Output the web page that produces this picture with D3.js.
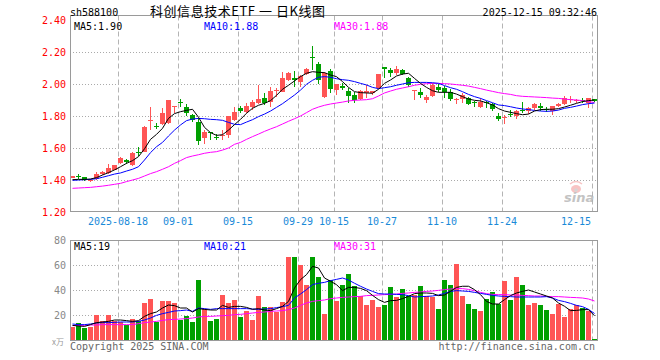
<!DOCTYPE html>
<html><head><meta charset="utf-8">
<script src="https://cdn.jsdelivr.net/npm/d3@7/dist/d3.min.js"></script>
<style>body{margin:0;background:#fff}svg{display:block}</style>
</head><body><svg id="c" width="660" height="360"></svg>
<script>
const dates = ["2025-08-06","2025-08-07","2025-08-08","2025-08-11","2025-08-12","2025-08-13","2025-08-14","2025-08-15","2025-08-18","2025-08-19","2025-08-20","2025-08-21","2025-08-22","2025-08-25","2025-08-26","2025-08-27","2025-08-28","2025-08-29",
"2025-09-01","2025-09-02","2025-09-03","2025-09-04","2025-09-05","2025-09-08","2025-09-09","2025-09-10","2025-09-11","2025-09-12","2025-09-15","2025-09-16","2025-09-17","2025-09-18","2025-09-19","2025-09-22","2025-09-23","2025-09-24","2025-09-25","2025-09-26","2025-09-29","2025-09-30",
"2025-10-09","2025-10-10","2025-10-13","2025-10-14","2025-10-15","2025-10-16","2025-10-17","2025-10-20","2025-10-21","2025-10-22","2025-10-23","2025-10-24","2025-10-27","2025-10-28","2025-10-29","2025-10-30","2025-10-31",
"2025-11-03","2025-11-04","2025-11-05","2025-11-06","2025-11-07","2025-11-10","2025-11-11","2025-11-12","2025-11-13","2025-11-14","2025-11-17","2025-11-18","2025-11-19","2025-11-20","2025-11-21","2025-11-24","2025-11-25","2025-11-26","2025-11-27","2025-11-28",
"2025-12-01","2025-12-02","2025-12-03","2025-12-04","2025-12-05","2025-12-08","2025-12-09","2025-12-10","2025-12-11","2025-12-12","2025-12-15"];

const open = [1.413,1.426,1.418,1.392,1.408,1.436,1.443,1.462,1.508,1.525, 1.494,1.575,1.577,1.773,1.738,1.750,1.754,1.860,1.885,1.854, 1.806,1.765,1.660,1.700,1.671,1.680,1.681,1.775,1.852,1.825, 1.854,1.880,1.915,1.890,1.960,1.952,2.025,2.040,2.015,2.060, 2.170,2.125,1.917,2.081,1.963,1.990,1.958,1.931,1.904,1.942, 1.942,1.973,2.104,2.087,2.067,2.087,2.040,1.956,1.952,1.900, 1.927,1.983,1.973,1.952,1.904,1.904,1.915,1.885,1.858,1.888, 1.875,1.802,1.790,1.815,1.802,1.838,1.833,1.848,1.865,1.842, 1.833,1.862,1.875,1.900,1.900,1.900,1.880,1.904];
const close = [1.425,1.424,1.400,1.402,1.437,1.452,1.473,1.494,1.535,1.512, 1.567,1.572,1.733,1.777,1.735,1.817,1.900,1.863,1.880,1.817, 1.775,1.646,1.698,1.698,1.669,1.684,1.800,1.827,1.831,1.862, 1.890,1.905,1.879,1.956,1.963,2.035,2.067,2.025,2.052,2.094, 2.160,2.025,2.070,1.969,1.998,1.977,1.927,1.900,1.956,1.958, 1.954,2.060,2.094,2.067,2.092,2.060,1.994,1.960,1.931,1.921, 1.994,1.963,1.948,1.906,1.906,1.931,1.875,1.881,1.890,1.885, 1.842,1.779,1.792,1.810,1.833,1.835,1.852,1.875,1.848,1.840, 1.862,1.875,1.915,1.904,1.902,1.896,1.910,1.892];
const high = [1.428,1.437,1.420,1.406,1.450,1.456,1.500,1.496,1.546,1.530, 1.572,1.604,1.735,1.854,1.758,1.852,1.902,1.863,1.904,1.875, 1.810,1.790,1.710,1.702,1.690,1.710,1.800,1.855,1.860,1.880, 1.900,1.994,1.942,1.983,1.973,2.077,2.077,2.081,2.056,2.098, 2.240,2.140,2.077,2.094,1.998,2.004,1.973,1.952,1.962,1.994, 1.958,2.060,2.104,2.102,2.112,2.092,2.046,1.960,1.973,1.931, 2.004,1.998,1.987,1.967,1.910,1.942,1.921,1.896,1.910,1.896, 1.883,1.817,1.806,1.838,1.838,1.890,1.858,1.883,1.879,1.858, 1.862,1.883,1.927,1.925,1.906,1.910,1.910,1.906];
const low = [1.410,1.408,1.395,1.388,1.400,1.430,1.440,1.460,1.498,1.500, 1.490,1.550,1.574,1.712,1.719,1.744,1.750,1.817,1.854,1.800, 1.760,1.619,1.625,1.650,1.650,1.650,1.660,1.770,1.820,1.820, 1.838,1.875,1.869,1.858,1.920,1.950,2.020,1.983,1.980,2.056, 2.087,1.997,1.910,1.942,1.931,1.963,1.883,1.883,1.900,1.910, 1.931,1.967,2.035,2.046,2.056,2.056,1.983,1.900,1.915,1.883, 1.921,1.948,1.910,1.896,1.875,1.879,1.869,1.854,1.852,1.852, 1.831,1.771,1.750,1.792,1.779,1.817,1.813,1.838,1.831,1.827, 1.806,1.858,1.869,1.880,1.883,1.879,1.848,1.888];
const volume = [10.1,13.6,9.6,10.1,19.7,15.5,19.7,15.5,14.4,12.3, 17.1,15.5,29.9,33.1,14.4,31.5,31.5,29.9,16.3,19.0, 14.1,47.7,25.1,15.5,17.1,36.3,29.9,32.3,18.1,22.9, 16.3,35.5,26.1,26.1,22.1,30.1,66.1,66.7,59.7,44.3, 66.7,50.1,21.1,48.3,31.0,44.3,53.1,43.0,35.5,28.3, 32.3,26.1,28.3,42.1,34.1,41.1,35.5,36.3,43.0,34.9, 34.1,25.1,48.3,43.8,61.1,34.9,29.1,25.1,23.5,33.1, 38.4,28.8,47.0,32.3,50.1,43.8,27.7,29.6,28.3,24.3, 21.1,29.1,18.1,25.1,27.7,25.6,23.0,1.1];

const ma5 = [1.402,1.404,1.404,1.406,1.415,1.431,1.446,1.463,1.483,1.504, 1.521,1.546,1.595,1.654,1.685,1.723,1.785,1.815,1.827,1.835, 1.842,1.792,1.729,1.696,1.679,1.683,1.712,1.746,1.779,1.817, 1.848,1.867,1.879,1.896,1.929,1.967,1.992,2.019,2.046,2.067, 2.077,2.073,2.071,2.056,2.046,2.015,1.979,1.952,1.946,1.944, 1.942,1.967,2.004,2.025,2.050,2.062,2.067,2.035,2.004,1.979, 1.958,1.948,1.948,1.948,1.937,1.921,1.906,1.898,1.894,1.883, 1.869,1.846,1.831,1.823,1.815,1.808,1.812,1.831,1.840,1.842, 1.842,1.846,1.856,1.867,1.879,1.890,1.896,1.900];
const ma10 = [1.398,1.400,1.402,1.404,1.408,1.417,1.427,1.437,1.444,1.456, 1.467,1.483,1.525,1.571,1.608,1.635,1.675,1.712,1.744,1.771, 1.781,1.785,1.783,1.779,1.777,1.773,1.760,1.748,1.746,1.762, 1.777,1.796,1.812,1.831,1.854,1.877,1.904,1.931,1.962,1.998, 2.023,2.042,2.046,2.042,2.033,2.027,2.023,2.015,2.004,1.994, 1.979,1.971,1.977,1.983,1.992,2.000,2.008,2.010,2.010,2.010, 2.008,2.004,1.990,1.977,1.967,1.952,1.935,1.921,1.910,1.896, 1.883,1.869,1.865,1.858,1.850,1.844,1.840,1.835,1.831,1.829, 1.831,1.837,1.848,1.854,1.862,1.871,1.877,1.881];
const ma30 = [1.348,1.350,1.352,1.354,1.358,1.362,1.367,1.373,1.379,1.390, 1.400,1.410,1.425,1.440,1.452,1.467,1.483,1.504,1.521,1.540, 1.550,1.558,1.567,1.573,1.577,1.587,1.600,1.623,1.635,1.654, 1.671,1.687,1.704,1.719,1.733,1.750,1.767,1.783,1.800,1.821, 1.842,1.856,1.867,1.875,1.881,1.887,1.894,1.898,1.900,1.902, 1.908,1.925,1.944,1.956,1.967,1.975,1.983,1.992,1.998,2.002, 2.004,2.004,2.002,2.000,1.996,1.992,1.987,1.979,1.971,1.962, 1.954,1.946,1.940,1.935,1.927,1.923,1.921,1.919,1.917,1.915, 1.912,1.910,1.906,1.902,1.900,1.896,1.890,1.884];

const vma5 = [11.7,11.2,10.9,12.3,13.9,14.4,14.9,16.0,16.0,15.5, 14.9,15.5,18.9,21.1,22.4,25.6,28.0,27.5,25.6,25.6, 22.4,25.1,24.5,24.0,24.0,27.7,26.1,26.9,26.9,26.1, 24.5,25.1,24.0,23.5,25.1,26.9,30.9,41.6,48.3,52.3, 58.9,57.6,49.6,47.0,44.3,39.5,42.1,42.1,41.3,39.5, 35.7,32.3,30.1,31.5,31.7,33.1,34.9,37.1,37.6,37.6, 37.3,35.5,36.0,38.9,42.1,43.0,43.0,40.3,36.3,30.9, 28.8,28.8,32.3,35.5,37.6,38.9,40.0,38.4,36.8,35.2, 33.6,29.6,27.0,23.5,23.7,24.3,24.3,19.4];
const vma10 = [12.8,12.3,12.3,12.8,13.6,13.9,13.9,14.1,14.4,14.4, 14.4,14.9,16.0,17.6,19.7,21.1,22.1,23.2,23.5,24.0, 22.9,25.6,25.1,24.5,25.1,25.1,25.1,25.1,25.1,25.1, 24.8,24.5,24.8,25.1,25.9,26.7,27.7,33.6,36.8,40.3, 44.3,45.4,46.1,47.5,48.5,49.6,48.0,45.4,43.0,40.8, 38.9,37.1,36.8,36.8,36.5,36.3,35.5,34.4,34.7,34.9, 35.2,36.0,37.3,38.9,39.5,39.2,38.9,38.1,37.3,36.5, 35.7,35.2,34.9,34.7,34.4,34.4,34.4,34.4,34.4,34.7, 33.6,31.7,30.7,29.3,27.7,26.7,24.5,21.2];
const vma30 = [11.5,11.7,11.7,12.0,12.0,12.3,12.3,12.3,12.3,12.3, 12.3,13.1,13.9,14.4,14.9,15.7,16.3,16.5,16.8,17.1, 17.6,18.4,18.9,18.9,19.2,19.5,19.7,20.3,20.5,21.1, 21.6,22.1,22.4,22.9,23.2,23.5,24.3,25.6,27.7,29.6, 30.9,31.5,32.0,33.1,33.6,34.1,34.4,34.7,34.9,35.5, 35.7,36.0,36.3,36.5,36.8,37.3,37.6,38.1,38.4,38.9, 39.2,39.7,40.3,40.8,41.1,41.1,40.5,39.5,38.1,37.1, 36.5,36.3,36.3,36.0,36.0,35.7,35.5,35.2,35.2,34.9, 34.7,34.7,34.4,34.1,33.9,33.6,32.8,31.2];

const priceTicks = [1.20,1.40,1.60,1.80,2.00,2.20,2.40];
const volTicks = [20,40,60,80];
const dateTicks = ["2025-08-18","2025-09-01","2025-09-15","2025-09-29","2025-10-15","2025-10-27","2025-11-10","2025-11-24","2025-12-15"];
const dateTickLabels = ["2025-08-18","09-01","09-15","09-29","10-15","10-27","11-10","11-24","12-15"];

const code = "sh588100";
const title = "科创信息技术ETF 一 日K线图";
const stamp = "2025-12-15 09:32:46";

// ---------- drawing ----------
const svg = d3.select("#c");
const L = 70, R = 597;
const MONO = "'DejaVu Sans Mono', 'Liberation Mono', monospace";
const RED = "#ff5555", GREEN = "#00a000";
const x = d3.scaleBand().domain(dates).range([L, R]).paddingInner(1/6).paddingOuter(0).align(0);
const bw = x.bandwidth();
const cx = d => x(d) + bw / 2;
const yP = d3.scaleLinear().domain([1.2, 2.4]).range([212, 20]);
const yV = d3.scaleLinear().domain([0, 80]).range([340, 240]);

const mainTop = 15.5, mainBot = 211.5, volTop = 240.5, volBot = 340.5;

// grid
const g = svg.append("g");
priceTicks.filter(t => t > 1.21 && t < 2.39).forEach(t => {
  const yy = Math.round(yP(t)) + 0.5;
  g.append("line").attr("x1", L).attr("x2", R).attr("y1", yy).attr("y2", yy)
    .attr("stroke", "#aaa").attr("stroke-dasharray", "1,2");
});
volTicks.filter(t => t < 80).forEach(t => {
  const yy = Math.round(yV(t)) + 0.5;
  g.append("line").attr("x1", L).attr("x2", R).attr("y1", yy).attr("y2", yy)
    .attr("stroke", "#aaa").attr("stroke-dasharray", "1,2");
});
dateTicks.forEach(d => {
  const xx = Math.round(x(d)) + 0.5;
  [[mainTop, mainBot], [volTop, volBot]].forEach(([a, b]) => {
    g.append("line").attr("x1", xx).attr("x2", xx).attr("y1", a).attr("y2", b)
      .attr("stroke", "#b4b4b4").attr("stroke-dasharray", "5,3");
  });
});

// candles
const idx = d3.range(dates.length);
const col = i => close[i] >= open[i] ? RED : GREEN;
const cg = svg.append("g");
cg.selectAll("rect.wick").data(idx).join("rect").attr("class", "wick")
  .attr("x", i => Math.round(x(dates[i])) + 2).attr("width", 1)
  .attr("y", i => Math.round(yP(high[i])))
  .attr("height", i => Math.max(1, Math.round(yP(low[i])) - Math.round(yP(high[i]))))
  .attr("fill", col);
cg.selectAll("rect.body").data(idx).join("rect").attr("class", "body")
  .attr("x", i => Math.round(x(dates[i]))).attr("width", Math.round(bw))
  .attr("y", i => Math.round(yP(Math.max(open[i], close[i]))))
  .attr("height", i => Math.max(1, Math.round(yP(Math.min(open[i], close[i]))) - Math.round(yP(Math.max(open[i], close[i])))))
  .attr("fill", col);

// volume bars
svg.append("g").selectAll("rect").data(idx).join("rect")
  .attr("x", i => Math.round(x(dates[i]))).attr("width", Math.round(bw))
  .attr("y", i => Math.round(yV(volume[i])))
  .attr("height", i => 340 - Math.round(yV(volume[i])))
  .attr("fill", col);

// MA lines
function drawLine(arr, scale, color) {
  const line = d3.line().x((v, i) => cx(dates[i])).y(v => scale(v));
  svg.append("path").attr("d", line(arr)).attr("fill", "none")
    .attr("stroke", color).attr("stroke-width", 1);
}
drawLine(ma30, yP, "#ff00ff");
drawLine(ma10, yP, "#0000ff");
drawLine(ma5, yP, "#000000");
drawLine(vma30, yV, "#ff00ff");
drawLine(vma10, yV, "#0000ff");
drawLine(vma5, yV, "#000000");

// watermark
const wm = svg.append("g").attr("opacity", 0.75);
wm.append("ellipse").attr("cx", 576).attr("cy", 189).attr("rx", 5).attr("ry", 4).attr("fill", "#f6b0b0");
wm.append("circle").attr("cx", 576).attr("cy", 190).attr("r", 1.8).attr("fill", "#c8c8c8");
wm.append("path").attr("d", "M570,184 q6,-5 12,0").attr("fill", "none").attr("stroke", "#f6b0b0").attr("stroke-width", 1.5);
wm.append("text").attr("x", 564).attr("y", 202).text("sina")
  .attr("font-family", "'DejaVu Sans', sans-serif").attr("font-style", "italic").attr("font-weight", "bold")
  .attr("font-size", 13).attr("fill", "#b0b0b0");

// frames
[[mainTop, mainBot], [volTop, volBot]].forEach(([a, b]) => {
  svg.append("rect").attr("x", L + 0.5).attr("y", a).attr("width", R - L).attr("height", b - a)
    .attr("fill", "none").attr("stroke", "#9a9a9a").attr("stroke-width", 1);
});

// axis labels
const t = (xx, yy, s, color, anchor, size, fam) => svg.append("text").attr("x", xx).attr("y", yy).text(s)
  .attr("fill", color).attr("text-anchor", anchor || "start").attr("font-size", size || 10)
  .attr("font-family", fam || MONO);

priceTicks.forEach(v => t(66, yP(v) + 3.5, v.toFixed(2), "#ff0000", "end"));
volTicks.forEach(v => t(66, yV(v) + 3.5, String(v), "#888888", "end"));
t(64, 345, "x万", "#999999", "end", 8, "'Noto Sans CJK SC', sans-serif");

dateTicks.forEach((d, i) => {
  const last = i === dateTicks.length - 1;
  t(last ? x(d) - 1 : x(d), 225, dateTickLabels[i], "#1a8ad8", last ? "end" : "middle");
});

// legends
t(74, 30, "MA5:" + ma5[ma5.length - 1].toFixed(2), "#000000");
t(204, 30, "MA10:" + ma10[ma10.length - 1].toFixed(2), "#0000ff");
t(334, 30, "MA30:" + ma30[ma30.length - 1].toFixed(2), "#ff00ff");
t(74, 250, "MA5:" + Math.round(vma5[vma5.length - 1]), "#000000");
t(204, 250, "MA10:" + Math.round(vma10[vma10.length - 1]), "#0000ff");
t(334, 250, "MA30:" + Math.round(vma30[vma30.length - 1]), "#ff00ff");

// header
t(70, 16, code, "#000000");
svg.append("text").attr("x", 150).attr("y", 16).text(title)
  .attr("font-family", "'Noto Sans CJK SC', sans-serif").attr("font-size", 13)
  .attr("fill", "#000").attr("textLength", 175).attr("lengthAdjust", "spacing");
t(597, 16, stamp, "#000000", "end");

// footer
t(70, 350, "Copyright 2025 SINA.COM", "#666666");
t(595, 350, "http://finance.sina.com.cn", "#666666", "end");
</script>
</body></html>
